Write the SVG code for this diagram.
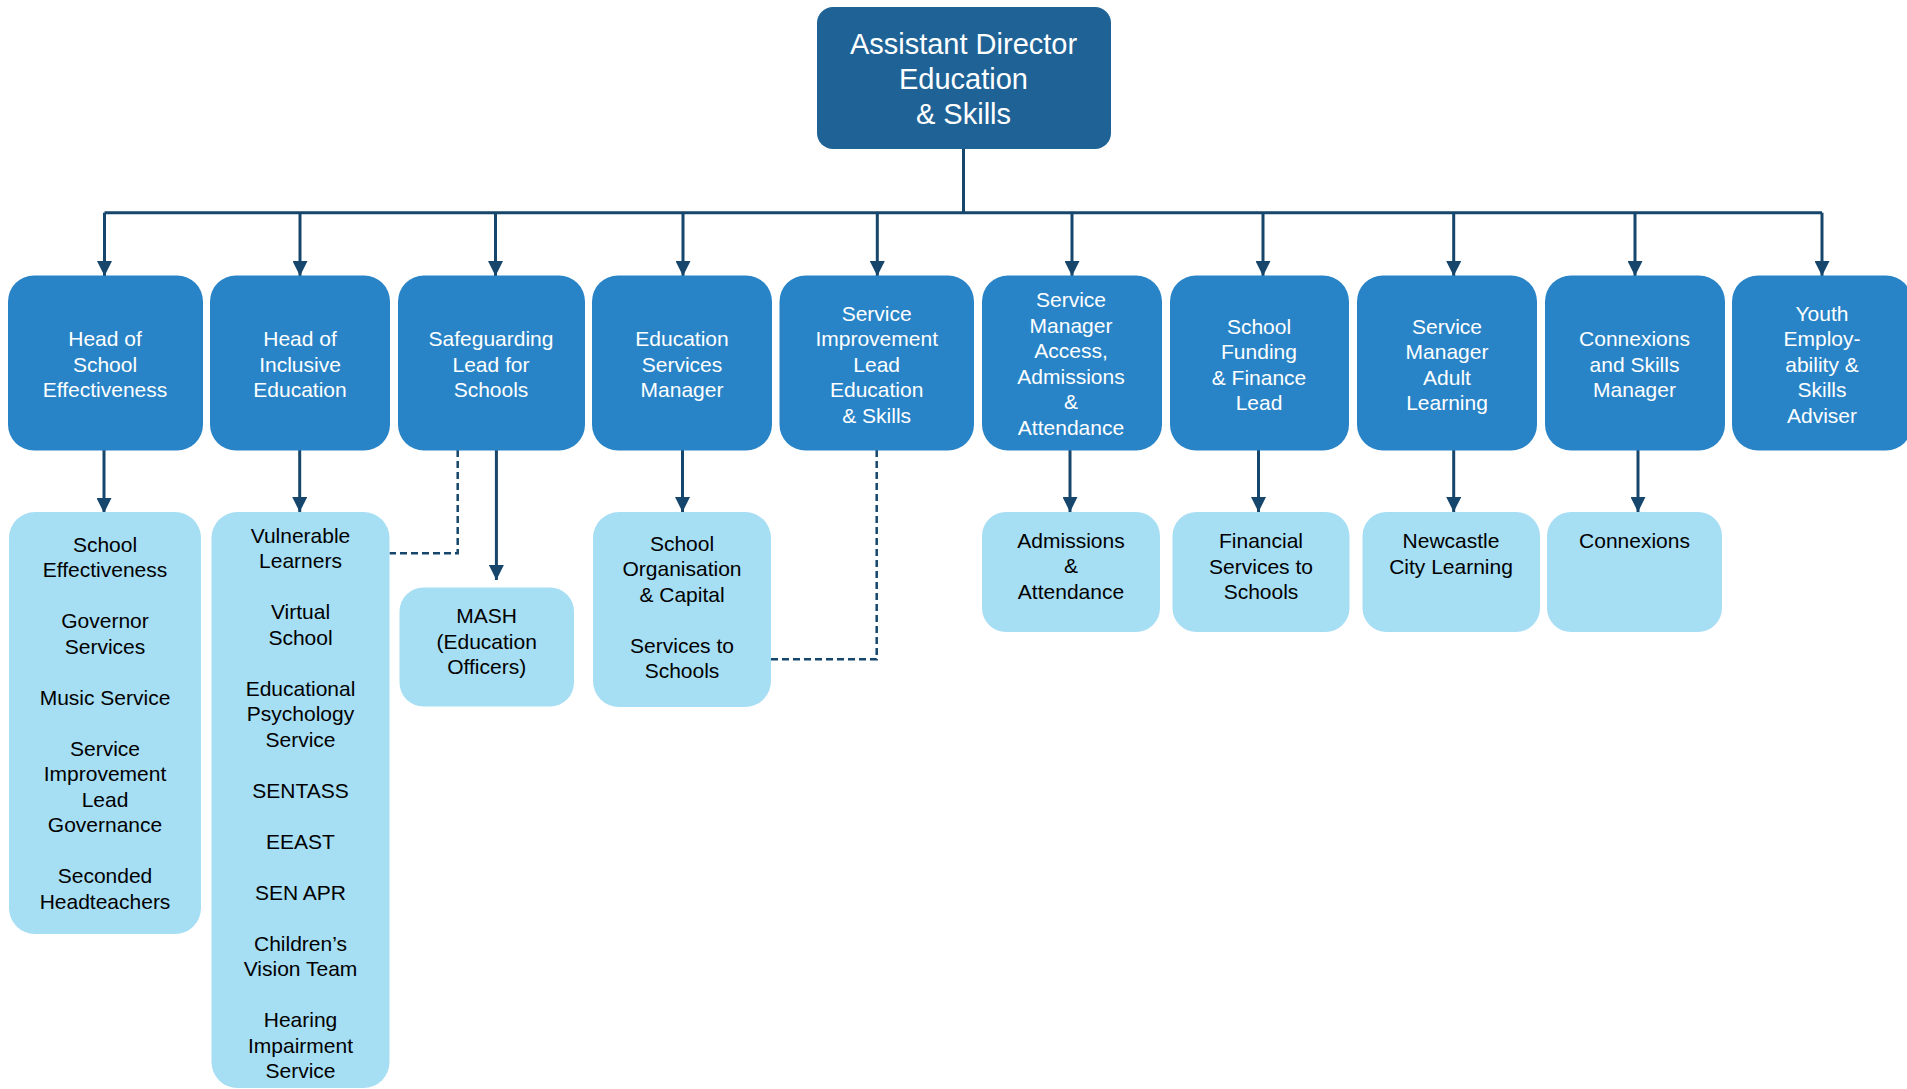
<svg xmlns="http://www.w3.org/2000/svg" width="1907" height="1089" viewBox="0 0 1907 1089">
<style>
.top{fill:#1F6396}
.l2{fill:#2884C7}
.l3{fill:#A6DEF4}
text{font-family:"Liberation Sans",Arial,sans-serif;text-anchor:middle}
.tt{font-size:29px;fill:#FFFFFF}
.t2{font-size:21px;fill:#FFFFFF}
.t3{font-size:21px;fill:#000000}
.con{stroke:#16466B;stroke-width:3;fill:none}
.arr{marker-end:url(#ah)}
.dash{stroke:#16466B;stroke-width:2.5;fill:none;stroke-dasharray:7 4}
</style>
<defs>
<marker id="ah" viewBox="0 0 15 15" refX="15" refY="7.5" markerWidth="15" markerHeight="15" markerUnits="userSpaceOnUse" orient="auto">
<path d="M0,0 L15,7.5 L0,15 z" fill="#16466B"/>
</marker>
</defs>
<rect width="1907" height="1089" fill="#FFFFFF"/>

<g id="connectors">
<path class="con" d="M963.5,149 V212.7 M104.5,212.7 H1822"/>
<line class="con arr" x1="104.5" y1="212.7" x2="104.5" y2="276"/>
<line class="con arr" x1="300" y1="212.7" x2="300" y2="276"/>
<line class="con arr" x1="495.5" y1="212.7" x2="495.5" y2="276"/>
<line class="con arr" x1="683" y1="212.7" x2="683" y2="276"/>
<line class="con arr" x1="877.3" y1="212.7" x2="877.3" y2="276"/>
<line class="con arr" x1="1072" y1="212.7" x2="1072" y2="276"/>
<line class="con arr" x1="1263" y1="212.7" x2="1263" y2="276"/>
<line class="con arr" x1="1453.7" y1="212.7" x2="1453.7" y2="276"/>
<line class="con arr" x1="1635" y1="212.7" x2="1635" y2="276"/>
<line class="con arr" x1="1822" y1="212.7" x2="1822" y2="276"/>
<line class="con arr" x1="104" y1="450" x2="104" y2="513"/>
<line class="con arr" x1="299.7" y1="450" x2="299.7" y2="512"/>
<line class="con arr" x1="496.4" y1="450" x2="496.4" y2="580"/>
<line class="con arr" x1="682.5" y1="450" x2="682.5" y2="512"/>
<line class="con arr" x1="1070" y1="450" x2="1070" y2="512"/>
<line class="con arr" x1="1258.5" y1="450" x2="1258.5" y2="512"/>
<line class="con arr" x1="1453.7" y1="450" x2="1453.7" y2="512"/>
<line class="con arr" x1="1638" y1="450" x2="1638" y2="512"/>
<path class="dash" d="M457.7,450 V553.3 H389.5"/>
<path class="dash" d="M876.7,450 V659.3 H771"/>
</g>

<g id="assistant-director">
<rect class="top" x="817" y="7" width="294" height="142" rx="16"/>
<text class="tt" x="963.5" y="54">Assistant Director<tspan x="963.5" dy="35">Education</tspan><tspan x="963.5" dy="35">&amp; Skills</tspan></text>
</g>

<g id="head-school-effectiveness">
<rect class="l2" x="8" y="275.5" width="195" height="175" rx="26"/>
<text class="t2" x="105" y="346">Head of<tspan x="105" dy="25.5">School</tspan><tspan x="105" dy="25.5">Effectiveness</tspan></text>
</g>
<g id="head-inclusive-education">
<rect class="l2" x="210" y="275.5" width="180" height="175" rx="26"/>
<text class="t2" x="300" y="346">Head of<tspan x="300" dy="25.5">Inclusive</tspan><tspan x="300" dy="25.5">Education</tspan></text>
</g>
<g id="safeguarding-lead">
<rect class="l2" x="398" y="275.5" width="187" height="175" rx="26"/>
<text class="t2" x="491" y="346">Safeguarding<tspan x="491" dy="25.5">Lead for</tspan><tspan x="491" dy="25.5">Schools</tspan></text>
</g>
<g id="education-services-manager">
<rect class="l2" x="592" y="275.5" width="180" height="175" rx="26"/>
<text class="t2" x="682" y="346">Education<tspan x="682" dy="25.5">Services</tspan><tspan x="682" dy="25.5">Manager</tspan></text>
</g>
<g id="service-improvement-lead">
<rect class="l2" x="779.5" y="275.5" width="194.5" height="175" rx="26"/>
<text class="t2" x="876.7" y="320.5">Service<tspan x="876.7" dy="25.5">Improvement</tspan><tspan x="876.7" dy="25.5">Lead</tspan><tspan x="876.7" dy="25.5">Education</tspan><tspan x="876.7" dy="25.5">&amp; Skills</tspan></text>
</g>
<g id="service-manager-access">
<rect class="l2" x="982" y="275.5" width="180" height="175" rx="26"/>
<text class="t2" x="1071" y="307">Service<tspan x="1071" dy="25.5">Manager</tspan><tspan x="1071" dy="25.5">Access,</tspan><tspan x="1071" dy="25.5">Admissions</tspan><tspan x="1071" dy="25.5">&amp;</tspan><tspan x="1071" dy="25.5">Attendance</tspan></text>
</g>
<g id="school-funding-lead">
<rect class="l2" x="1170" y="275.5" width="179" height="175" rx="26"/>
<text class="t2" x="1259" y="333.5">School<tspan x="1259" dy="25.5">Funding</tspan><tspan x="1259" dy="25.5">&amp; Finance</tspan><tspan x="1259" dy="25.5">Lead</tspan></text>
</g>
<g id="service-manager-adult-learning">
<rect class="l2" x="1357" y="275.5" width="180" height="175" rx="26"/>
<text class="t2" x="1447" y="333.5">Service<tspan x="1447" dy="25.5">Manager</tspan><tspan x="1447" dy="25.5">Adult</tspan><tspan x="1447" dy="25.5">Learning</tspan></text>
</g>
<g id="connexions-skills-manager">
<rect class="l2" x="1545" y="275.5" width="180" height="175" rx="26"/>
<text class="t2" x="1634.5" y="346">Connexions<tspan x="1634.5" dy="25.5">and Skills</tspan><tspan x="1634.5" dy="25.5">Manager</tspan></text>
</g>
<g id="youth-employability-adviser">
<rect class="l2" x="1732" y="275.5" width="180" height="175" rx="26"/>
<text class="t2" x="1822" y="320.5">Youth<tspan x="1822" dy="25.5">Employ-</tspan><tspan x="1822" dy="25.5">ability &amp;</tspan><tspan x="1822" dy="25.5">Skills</tspan><tspan x="1822" dy="25.5">Adviser</tspan></text>
</g>

<g id="school-effectiveness-services">
<rect class="l3" x="9" y="512" width="192" height="422" rx="26"/>
<text class="t3" x="105" y="551.7">School<tspan x="105" dy="25.5">Effectiveness</tspan><tspan x="105" dy="51">Governor</tspan><tspan x="105" dy="25.5">Services</tspan><tspan x="105" dy="51">Music Service</tspan><tspan x="105" dy="51">Service</tspan><tspan x="105" dy="25.5">Improvement</tspan><tspan x="105" dy="25.5">Lead</tspan><tspan x="105" dy="25.5">Governance</tspan><tspan x="105" dy="51">Seconded</tspan><tspan x="105" dy="25.5">Headteachers</tspan></text>
</g>
<g id="inclusive-education-services">
<rect class="l3" x="211.5" y="512" width="178" height="576" rx="26"/>
<text class="t3" x="300.5" y="542.5">Vulnerable<tspan x="300.5" dy="25.5">Learners</tspan><tspan x="300.5" dy="51">Virtual</tspan><tspan x="300.5" dy="25.5">School</tspan><tspan x="300.5" dy="51">Educational</tspan><tspan x="300.5" dy="25.5">Psychology</tspan><tspan x="300.5" dy="25.5">Service</tspan><tspan x="300.5" dy="51">SENTASS</tspan><tspan x="300.5" dy="51">EEAST</tspan><tspan x="300.5" dy="51">SEN APR</tspan><tspan x="300.5" dy="51">Children’s</tspan><tspan x="300.5" dy="25.5">Vision Team</tspan><tspan x="300.5" dy="51">Hearing</tspan><tspan x="300.5" dy="25.5">Impairment</tspan><tspan x="300.5" dy="25.5">Service</tspan></text>
</g>
<g id="mash">
<rect class="l3" x="399.5" y="587.5" width="174.5" height="119" rx="24"/>
<text class="t3" x="486.7" y="623.3">MASH<tspan x="486.7" dy="25.5">(Education</tspan><tspan x="486.7" dy="25.5">Officers)</tspan></text>
</g>
<g id="school-organisation">
<rect class="l3" x="593" y="512" width="178" height="195" rx="26"/>
<text class="t3" x="682" y="550.7">School<tspan x="682" dy="25.5">Organisation</tspan><tspan x="682" dy="25.5">&amp; Capital</tspan><tspan x="682" dy="51">Services to</tspan><tspan x="682" dy="25.5">Schools</tspan></text>
</g>
<g id="admissions-attendance">
<rect class="l3" x="982" y="512" width="178" height="120" rx="24"/>
<text class="t3" x="1071" y="547.8">Admissions<tspan x="1071" dy="25.5">&amp;</tspan><tspan x="1071" dy="25.5">Attendance</tspan></text>
</g>
<g id="financial-services">
<rect class="l3" x="1172.5" y="512" width="177" height="120" rx="24"/>
<text class="t3" x="1261" y="548">Financial<tspan x="1261" dy="25.5">Services to</tspan><tspan x="1261" dy="25.5">Schools</tspan></text>
</g>
<g id="newcastle-city-learning">
<rect class="l3" x="1362.5" y="512" width="177.5" height="120" rx="24"/>
<text class="t3" x="1451" y="548">Newcastle<tspan x="1451" dy="25.5">City Learning</tspan></text>
</g>
<g id="connexions">
<rect class="l3" x="1547" y="512" width="175" height="120" rx="24"/>
<text class="t3" x="1634.5" y="548">Connexions</text>
</g>
</svg>
